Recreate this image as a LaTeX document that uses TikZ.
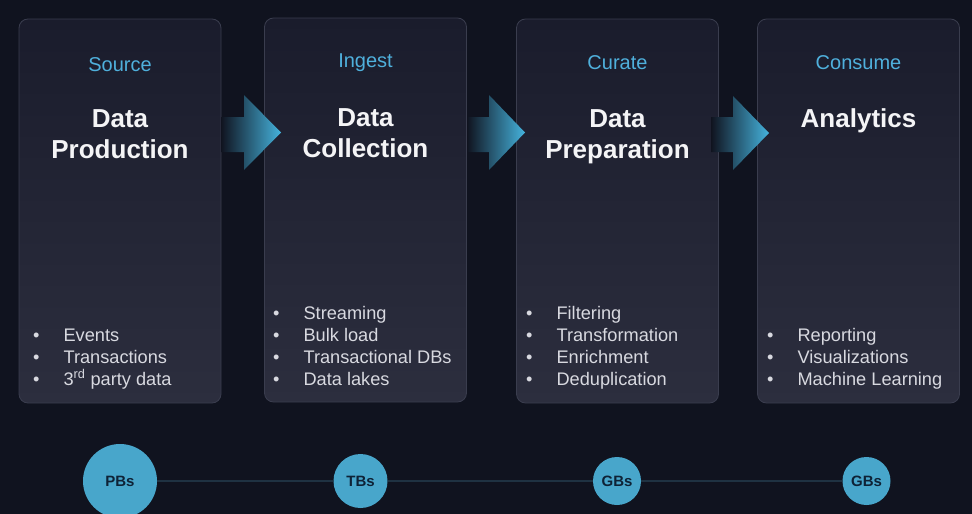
\documentclass[tikz,border=0pt]{standalone}
\usepackage{fontspec}
\setmainfont{Liberation Sans}
\definecolor{bgc}{HTML}{10131F}
\definecolor{boxtop}{HTML}{1A1C2C}
\definecolor{boxbot}{HTML}{2C2E3E}
\definecolor{boxline}{HTML}{3A3D4E}
\definecolor{stagec}{HTML}{4FB0DC}
\definecolor{titlec}{HTML}{F4F4F6}
\definecolor{itemc}{HTML}{D8D9E0}
\definecolor{circc}{HTML}{48A6CB}
\definecolor{circtext}{HTML}{0E2236}
\definecolor{linec}{HTML}{1F3242}
\definecolor{arrowc}{HTML}{45B3DD}
\tikzset{
  stagebox/.style={draw=boxline, line width=0.8pt, rounded corners=9pt, top color=boxtop, bottom color=boxbot, minimum width=202pt, minimum height=384pt, inner sep=0pt},
  stagelabel/.style={text=stagec, font=\fontsize{20}{24}\selectfont, anchor=base, inner sep=0pt},
  titlelabel/.style={text=titlec, font=\bfseries\fontsize{26}{31}\selectfont, anchor=base, inner sep=0pt},
  itemlist/.style={text=itemc, font=\fontsize{18.2}{22}\selectfont, anchor=base west, inner sep=0pt},
  sizecircle/.style={circle, fill=circc, text=circtext, font=\bfseries\fontsize{15}{18}\selectfont, inner sep=0pt, minimum size=#1},
  flowarrow/.style={left color=bgc, right color=arrowc, draw=none},
  sizeline/.style={draw=linec, line width=1.6pt}
}
\newcommand{\itemrows}[1]{\begin{tabular}[t]{@{}l@{\hspace{24pt}}l@{}}#1\end{tabular}}
\begin{document}
\begin{tikzpicture}[x=1pt,y=-1pt]
\fill[bgc] (0,0) rectangle (972,514);
\useasboundingbox (0,0) rectangle (972,514);

% boxes
\node[stagebox] (b1) at (120,211) {};
\node[stagebox] (b2) at (365.5,210) {};
\node[stagebox] (b3) at (617.5,211) {};
\node[stagebox] (b4) at (858.5,211) {};

% arrows
\shade[flowarrow] (221,117) -- (244,117) -- (244,95) -- (281,132.5) -- (244,170) -- (244,152) -- (221,152) -- cycle;
\shade[flowarrow] (467,117) -- (489,117) -- (489,95) -- (525,132.5) -- (489,170) -- (489,152) -- (467,152) -- cycle;
\shade[flowarrow] (711,117) -- (733,117) -- (733,96) -- (769,133) -- (733,170) -- (733,152) -- (711,152) -- cycle;

% stage labels
\node[stagelabel] (s1) at (120,71) {Source};
\node[stagelabel] (s2) at (365.5,67) {Ingest};
\node[stagelabel] (s3) at (617.5,69) {Curate};
\node[stagelabel] (s4) at (858.5,69) {Consume};

% titles
\node[titlelabel] (t1a) at (120,127) {Data};
\node[titlelabel] (t1b) at (120,158) {Production};
\node[titlelabel] (t2a) at (365.5,126) {Data};
\node[titlelabel] (t2b) at (365.5,157) {Collection};
\node[titlelabel] (t3a) at (617.5,127) {Data};
\node[titlelabel] (t3b) at (617.5,158) {Preparation};
\node[titlelabel] (t4a) at (858.5,127) {Analytics};

% item lists
\node[itemlist] (l1) at (33,341) {\itemrows{•&Events\\ •&Transactions\\ •&3\textsuperscript{rd} party data}};
\node[itemlist] (l2) at (273,319) {\itemrows{•&Streaming\\ •&Bulk load\\ •&Transactional DBs\\ •&Data lakes}};
\node[itemlist] (l3) at (526,319) {\itemrows{•&Filtering\\ •&Transformation\\ •&Enrichment\\ •&Deduplication}};
\node[itemlist] (l4) at (767,341) {\itemrows{•&Reporting\\ •&Visualizations\\ •&Machine Learning}};

% size circles
\node[sizecircle=74pt] (c1) at (120,481) {PBs};
\node[sizecircle=54pt] (c2) at (360.5,481) {TBs};
\node[sizecircle=48pt] (c3) at (617,481) {GBs};
\node[sizecircle=48pt] (c4) at (866.5,481) {GBs};
\draw[sizeline] (c1) -- (c2);
\draw[sizeline] (c2) -- (c3);
\draw[sizeline] (c3) -- (c4);
\end{tikzpicture}
\end{document}
